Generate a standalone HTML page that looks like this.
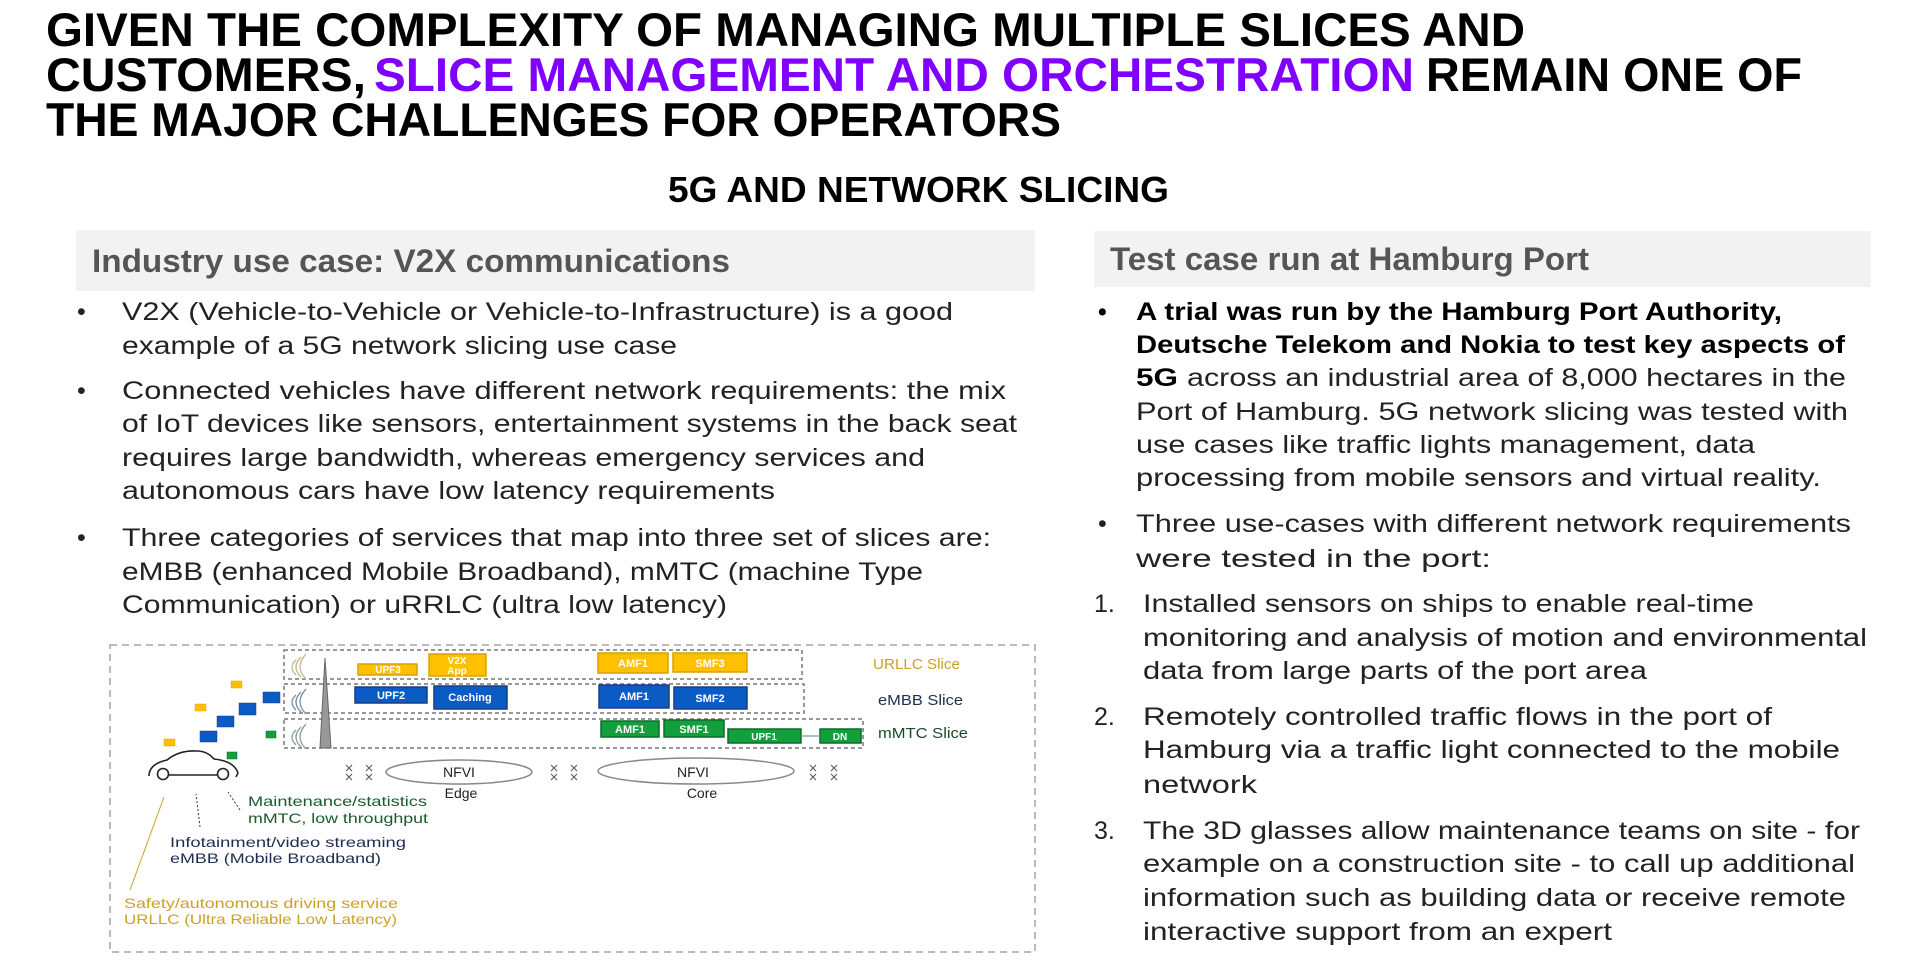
<!DOCTYPE html>
<html><head><meta charset="utf-8"><style>
html,body{margin:0;padding:0;background:#fff;}
svg{display:block;}
text{font-family:"Liberation Sans",sans-serif;}
.t{font-weight:bold;font-size:47px;fill:#000;}
.b{font-size:25px;fill:#222;}
.bb{font-size:25px;fill:#000;font-weight:bold;}
.d{font-size:13px;font-weight:bold;fill:#fff;}
.lbl{font-size:15px;}
</style></head><body>
<svg width="1906" height="970" viewBox="0 0 1906 970">
<g>
<text class="t" x="46" y="46" textLength="1479" lengthAdjust="spacingAndGlyphs">GIVEN THE COMPLEXITY OF MANAGING MULTIPLE SLICES AND</text>
<text class="t" x="46" y="91" textLength="320" lengthAdjust="spacingAndGlyphs">CUSTOMERS,</text>
<text class="t" x="374" y="91" textLength="1040" lengthAdjust="spacingAndGlyphs" style="fill:#7f00ff">SLICE MANAGEMENT AND ORCHESTRATION</text>
<text class="t" x="1426" y="91" textLength="376" lengthAdjust="spacingAndGlyphs">REMAIN ONE OF</text>
<text class="t" x="46" y="136" textLength="1015" lengthAdjust="spacingAndGlyphs">THE MAJOR CHALLENGES FOR OPERATORS</text>
</g>
<text x="668" y="202" textLength="501" lengthAdjust="spacingAndGlyphs" style="font-weight:bold;font-size:36px;fill:#000">5G AND NETWORK SLICING</text>

<rect x="76" y="230" width="959" height="61" fill="#f2f2f2"/>
<text x="92" y="272" textLength="638" lengthAdjust="spacingAndGlyphs" style="font-weight:bold;font-size:32px;fill:#555">Industry use case: V2X communications</text>
<rect x="1094" y="231" width="777" height="56" fill="#f2f2f2"/>
<text x="1110" y="270" textLength="479" lengthAdjust="spacingAndGlyphs" style="font-weight:bold;font-size:32px;fill:#555">Test case run at Hamburg Port</text>

<g>
<text class="b" x="77" y="320">•</text>
<text class="b" x="122" y="320" textLength="831" lengthAdjust="spacingAndGlyphs">V2X (Vehicle-to-Vehicle or Vehicle-to-Infrastructure) is a good</text>
<text class="b" x="122" y="354" textLength="555" lengthAdjust="spacingAndGlyphs">example of a 5G network slicing use case</text>
<text class="b" x="77" y="399">•</text>
<text class="b" x="122" y="399" textLength="884" lengthAdjust="spacingAndGlyphs">Connected vehicles have different network requirements: the mix</text>
<text class="b" x="122" y="432" textLength="895" lengthAdjust="spacingAndGlyphs">of IoT devices like sensors, entertainment systems in the back seat</text>
<text class="b" x="122" y="466" textLength="803" lengthAdjust="spacingAndGlyphs">requires large bandwidth, whereas emergency services and</text>
<text class="b" x="122" y="499" textLength="653" lengthAdjust="spacingAndGlyphs">autonomous cars have low latency requirements</text>
<text class="b" x="77" y="546">•</text>
<text class="b" x="122" y="546" textLength="869" lengthAdjust="spacingAndGlyphs">Three categories of services that map into three set of slices are:</text>
<text class="b" x="122" y="580" textLength="801" lengthAdjust="spacingAndGlyphs">eMBB (enhanced Mobile Broadband), mMTC (machine Type</text>
<text class="b" x="122" y="613" textLength="605" lengthAdjust="spacingAndGlyphs">Communication) or uRRLC (ultra low latency)</text>
</g>

<g>
<text class="bb" x="1098" y="320">•</text>
<text class="bb" x="1136" y="320" textLength="646" lengthAdjust="spacingAndGlyphs">A trial was run by the Hamburg Port Authority,</text>
<text class="bb" x="1136" y="353" textLength="709" lengthAdjust="spacingAndGlyphs">Deutsche Telekom and Nokia to test key aspects of</text>
<text class="bb" x="1136" y="386" textLength="42" lengthAdjust="spacingAndGlyphs">5G</text>
<text class="b" x="1187" y="386" textLength="659" lengthAdjust="spacingAndGlyphs">across an industrial area of 8,000 hectares in the</text>
<text class="b" x="1136" y="420" textLength="712" lengthAdjust="spacingAndGlyphs">Port of Hamburg. 5G network slicing was tested with</text>
<text class="b" x="1136" y="453" textLength="619" lengthAdjust="spacingAndGlyphs">use cases like traffic lights management, data</text>
<text class="b" x="1136" y="486" textLength="685" lengthAdjust="spacingAndGlyphs">processing from mobile sensors and virtual reality.</text>
<text class="b" x="1098" y="532">•</text>
<text class="b" x="1136" y="532" textLength="715" lengthAdjust="spacingAndGlyphs">Three use-cases with different network requirements</text>
<text class="b" x="1136" y="567" textLength="355" lengthAdjust="spacingAndGlyphs">were tested in the port:</text>
<text class="b" x="1094" y="612">1.</text>
<text class="b" x="1143" y="612" textLength="611" lengthAdjust="spacingAndGlyphs">Installed sensors on ships to enable real-time</text>
<text class="b" x="1143" y="646" textLength="724" lengthAdjust="spacingAndGlyphs">monitoring and analysis of motion and environmental</text>
<text class="b" x="1143" y="679" textLength="504" lengthAdjust="spacingAndGlyphs">data from large parts of the port area</text>
<text class="b" x="1094" y="725">2.</text>
<text class="b" x="1143" y="725" textLength="629" lengthAdjust="spacingAndGlyphs">Remotely controlled traffic flows in the port of</text>
<text class="b" x="1143" y="758" textLength="697" lengthAdjust="spacingAndGlyphs">Hamburg via a traffic light connected to the mobile</text>
<text class="b" x="1143" y="793" textLength="114" lengthAdjust="spacingAndGlyphs">network</text>
<text class="b" x="1094" y="839">3.</text>
<text class="b" x="1143" y="839" textLength="717" lengthAdjust="spacingAndGlyphs">The 3D glasses allow maintenance teams on site - for</text>
<text class="b" x="1143" y="872" textLength="712" lengthAdjust="spacingAndGlyphs">example on a construction site - to call up additional</text>
<text class="b" x="1143" y="906" textLength="703" lengthAdjust="spacingAndGlyphs">information such as building data or receive remote</text>
<text class="b" x="1143" y="940" textLength="469" lengthAdjust="spacingAndGlyphs">interactive support from an expert</text>
</g>

<g>
<rect x="110" y="645" width="925" height="307" fill="none" stroke="#bbb" stroke-width="2" stroke-dasharray="7,5"/>
<g fill="none" stroke="#777" stroke-width="1.5" stroke-dasharray="4,3">
<rect x="284" y="650" width="518" height="29"/>
<rect x="284" y="684" width="520" height="29"/>
<rect x="284" y="719" width="579" height="29"/>
</g>
<polygon points="325,658 320,748 331,748" fill="#999" stroke="#666"/>
<g fill="none" stroke-width="1.3">
<path d="M296,660 q-8,7 0,15 M301,657 q-10,10 0,20 M306,654 q-12,13 0,25" stroke="#c8b88a"/>
<path d="M296,695 q-8,7 0,15 M301,692 q-10,10 0,20 M306,689 q-12,13 0,25" stroke="#7a8ea0"/>
<path d="M296,730 q-8,7 0,15 M301,727 q-10,10 0,20 M306,724 q-12,13 0,25" stroke="#8aa090"/>
</g>
<g stroke-width="1.5">
<rect x="358" y="664" width="59" height="11" fill="#ffc000" stroke="#d9a200"/>
<rect x="429" y="654" width="57" height="22" fill="#ffc000" stroke="#d9a200"/>
<rect x="598" y="653" width="70" height="20" fill="#ffc000" stroke="#d9a200"/>
<rect x="673" y="653" width="74" height="19" fill="#ffc000" stroke="#d9a200"/>
<rect x="355" y="687" width="72" height="16" fill="#0a5bc4" stroke="#1c3e80"/>
<rect x="434" y="686" width="73" height="23" fill="#0a5bc4" stroke="#1c3e80"/>
<rect x="599" y="685" width="70" height="23" fill="#0a5bc4" stroke="#1c3e80"/>
<rect x="674" y="687" width="73" height="22" fill="#0a5bc4" stroke="#1c3e80"/>
<rect x="601" y="721" width="58" height="16" fill="#12a03c" stroke="#0d6a2a"/>
<rect x="664" y="720" width="60" height="17" fill="#12a03c" stroke="#0d6a2a"/>
<rect x="728" y="729" width="73" height="14" fill="#12a03c" stroke="#0d6a2a"/>
<rect x="820" y="729" width="41" height="14" fill="#12a03c" stroke="#0d6a2a"/>
<line x1="801" y1="736" x2="820" y2="736" stroke="#8ab"/>
</g>
<text class="d" x="388" y="673" text-anchor="middle" style="font-size:10px">UPF3</text>
<text class="d" x="457" y="664" text-anchor="middle" style="font-size:10px">V2X</text>
<text class="d" x="457" y="674" text-anchor="middle" style="font-size:10px">App</text>
<text class="d" x="633" y="667" text-anchor="middle" style="font-size:11px">AMF1</text>
<text class="d" x="710" y="667" text-anchor="middle" style="font-size:11px">SMF3</text>
<text class="d" x="391" y="699" text-anchor="middle" style="font-size:11px">UPF2</text>
<text class="d" x="470" y="701" text-anchor="middle" style="font-size:11px">Caching</text>
<text class="d" x="634" y="700" text-anchor="middle" style="font-size:11px">AMF1</text>
<text class="d" x="710" y="702" text-anchor="middle" style="font-size:11px">SMF2</text>
<text class="d" x="630" y="733" text-anchor="middle" style="font-size:11px">AMF1</text>
<text class="d" x="694" y="733" text-anchor="middle" style="font-size:11px">SMF1</text>
<text class="d" x="764" y="740" text-anchor="middle" style="font-size:10px">UPF1</text>
<text class="d" x="840" y="740" text-anchor="middle" style="font-size:10px">DN</text>
<text class="lbl" x="873" y="669" textLength="87" lengthAdjust="spacingAndGlyphs" style="fill:#c9a227">URLLC Slice</text>
<text class="lbl" x="878" y="705" textLength="85" lengthAdjust="spacingAndGlyphs" style="fill:#1f2d50">eMBB Slice</text>
<text class="lbl" x="878" y="738" textLength="90" lengthAdjust="spacingAndGlyphs" style="fill:#1a4a2a">mMTC Slice</text>
<g stroke-width="0.5">
<rect x="231" y="681" width="11" height="7" fill="#ffc000" stroke="#d9a200"/>
<rect x="195" y="704" width="11" height="7" fill="#ffc000" stroke="#d9a200"/>
<rect x="164" y="739" width="11" height="7" fill="#ffc000" stroke="#d9a200"/>
<rect x="263" y="692" width="17" height="11" fill="#0a5bc4" stroke="#1c3e80"/>
<rect x="239" y="703" width="17" height="12" fill="#0a5bc4" stroke="#1c3e80"/>
<rect x="217" y="716" width="17" height="11" fill="#0a5bc4" stroke="#1c3e80"/>
<rect x="200" y="731" width="17" height="11" fill="#0a5bc4" stroke="#1c3e80"/>
<rect x="266" y="731" width="10" height="7" fill="#12a03c" stroke="#0d6a2a"/>
<rect x="227" y="752" width="10" height="7" fill="#12a03c" stroke="#0d6a2a"/>
</g>
<g fill="none" stroke="#222" stroke-width="1.6">
<path d="M149,776 q0,-12 18,-16 q12,-10 30,-9 q10,0 17,8 q20,2 24,14 l-2,4"/>
<line x1="168" y1="775" x2="218" y2="775"/>
<circle cx="163" cy="774" r="5.5" fill="#fff"/><circle cx="223" cy="774" r="5.5" fill="#fff"/>
</g>
<g fill="none" stroke="#555" stroke-width="1">
<path d="M346,765 l6,6 m0,-6 l-6,6 M366,765 l6,6 m0,-6 l-6,6 M346,774 l6,6 m0,-6 l-6,6 M366,774 l6,6 m0,-6 l-6,6"/>
<path d="M551,765 l6,6 m0,-6 l-6,6 M571,765 l6,6 m0,-6 l-6,6 M551,774 l6,6 m0,-6 l-6,6 M571,774 l6,6 m0,-6 l-6,6"/>
<path d="M810,765 l6,6 m0,-6 l-6,6 M831,765 l6,6 m0,-6 l-6,6 M810,774 l6,6 m0,-6 l-6,6 M831,774 l6,6 m0,-6 l-6,6"/>
</g>
<ellipse cx="459" cy="772" rx="73" ry="12" fill="none" stroke="#888" stroke-width="1.5"/>
<ellipse cx="696" cy="771" rx="98" ry="13" fill="none" stroke="#888" stroke-width="1.5"/>
<text x="459" y="777" text-anchor="middle" style="font-size:14px;fill:#222">NFVI</text>
<text x="461" y="798" text-anchor="middle" style="font-size:14px;fill:#222">Edge</text>
<text x="693" y="777" text-anchor="middle" style="font-size:14px;fill:#222">NFVI</text>
<text x="702" y="798" text-anchor="middle" style="font-size:14px;fill:#222">Core</text>
<line x1="130" y1="890" x2="164" y2="797" stroke="#c9a227" stroke-width="1"/>
<line x1="200" y1="827" x2="196" y2="794" stroke="#1f2d50" stroke-width="1" stroke-dasharray="2,2"/>
<line x1="240" y1="810" x2="228" y2="792" stroke="#1a4a2a" stroke-width="1" stroke-dasharray="2,2"/>
<text x="248" y="806" textLength="179" lengthAdjust="spacingAndGlyphs" style="font-size:14px;fill:#1a5c2a">Maintenance/statistics</text>
<text x="248" y="823" textLength="180" lengthAdjust="spacingAndGlyphs" style="font-size:14px;fill:#1a5c2a">mMTC, low throughput</text>
<text x="170" y="847" textLength="236" lengthAdjust="spacingAndGlyphs" style="font-size:14px;fill:#1f2d50">Infotainment/video streaming</text>
<text x="170" y="863" textLength="211" lengthAdjust="spacingAndGlyphs" style="font-size:14px;fill:#1f2d50">eMBB (Mobile Broadband)</text>
<text x="124" y="908" textLength="274" lengthAdjust="spacingAndGlyphs" style="font-size:14px;fill:#c9a227">Safety/autonomous driving service</text>
<text x="124" y="924" textLength="273" lengthAdjust="spacingAndGlyphs" style="font-size:14px;fill:#c9a227">URLLC (Ultra Reliable Low Latency)</text>
</g>
</svg>
</body></html>
